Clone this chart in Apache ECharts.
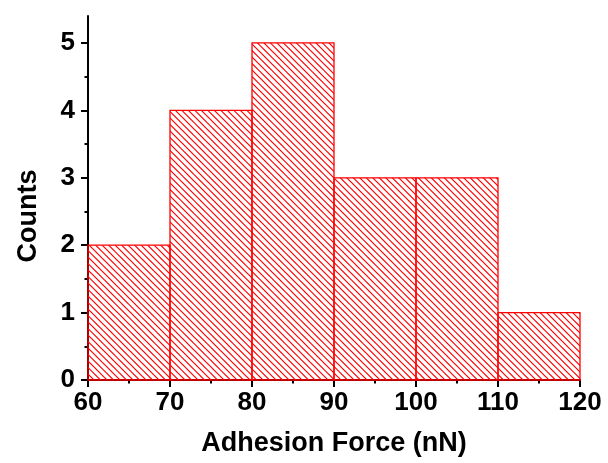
<!DOCTYPE html>
<html>
<head>
<meta charset="utf-8">
<script src="https://cdn.jsdelivr.net/npm/echarts@6/dist/echarts.min.js"></script>
<style>html,body{margin:0;padding:0;background:#fff;}#c{width:608px;height:463px;}</style>
</head>
<body>
<div id="c"></div>
<script>
// Histogram bins (nN) and counts
const binStarts = [60, 70, 80, 90, 100, 110];
const binEnds   = [70, 80, 90, 100, 110, 120];
const counts    = [2, 4, 5, 3, 3, 1];
const yMajorTicks = [0, 1, 2, 3, 4, 5];
const yMinorTicks = [0.5, 1.5, 2.5, 3.5, 4.5];
const xTitle = 'Adhesion Force (nN)';
const yTitle = 'Counts';

// hatch pattern (diagonal "\" lines)
const pat = document.createElement('canvas');
const T = 13;
pat.width = T; pat.height = T;
const pc = pat.getContext('2d');
pc.strokeStyle = '#ff0000';
pc.lineWidth = 1.2;
pc.beginPath();
[-13, -6.5, 0, 6.5, 13].forEach(function (k) {
  pc.moveTo(k - 1, -1); pc.lineTo(k + T + 1, T + 1);
});
pc.stroke();

const data = binStarts.map((s, i) => [s, binEnds[i], counts[i]]);

const chart = echarts.init(document.getElementById('c'), null, {renderer: 'canvas'});
const font = 'Liberation Sans, Arial, sans-serif';
chart.setOption({
  animation: false,
  grid: {left: 88, right: 28, top: 16, bottom: 83},
  xAxis: {
    type: 'value', min: 60, max: 120, interval: 10,
    splitLine: {show: false},
    axisLine: {show: true, onZero: false, lineStyle: {color: '#000', width: 2}},
    axisTick: {show: true, length: 7, lineStyle: {color: '#000', width: 2}},
    minorTick: {show: true, splitNumber: 2, length: 3.5, lineStyle: {color: '#000', width: 2}},
    axisLabel: {color: '#000', fontFamily: font, fontWeight: 'bold', fontSize: 26, margin: 10},
    name: xTitle, nameLocation: 'middle', nameGap: 50,
    nameTextStyle: {color: '#000', fontFamily: font, fontWeight: 'bold', fontSize: 27}
  },
  yAxis: [{
    type: 'value', min: 0, max: 5.4, interval: 1,
    splitLine: {show: false},
    axisLine: {show: true, lineStyle: {color: '#000', width: 2}},
    axisTick: {show: true, length: 7, customValues: yMajorTicks, lineStyle: {color: '#000', width: 2}},
    axisLabel: {color: '#000', fontFamily: font, fontWeight: 'bold', fontSize: 26, margin: 13, customValues: yMajorTicks},
    name: yTitle, nameLocation: 'middle', nameGap: 46,
    nameTextStyle: {color: '#000', fontFamily: font, fontWeight: 'bold', fontSize: 27, padding: [0, 36, 0, 0]}
  }, {
    type: 'value', min: 0, max: 5.4, position: 'left',
    splitLine: {show: false},
    axisLine: {show: false},
    axisTick: {show: true, length: 3.5, customValues: yMinorTicks, lineStyle: {color: '#000', width: 2}},
    axisLabel: {show: false}
  }],
  series: [{
    type: 'custom',
    xAxisIndex: 0, yAxisIndex: 0,
    data: data,
    renderItem: function (params, api) {
      const p0 = api.coord([api.value(0), api.value(2)]);
      const p1 = api.coord([api.value(1), 0]);
      return {
        type: 'rect',
        shape: {x: p0[0], y: p0[1], width: p1[0] - p0[0], height: p1[1] - p0[1]},
        style: {fill: {image: pat, repeat: 'repeat'}, stroke: '#ff0000', lineWidth: 1.3}
      };
    }
  }]
});
</script>
</body>
</html>
